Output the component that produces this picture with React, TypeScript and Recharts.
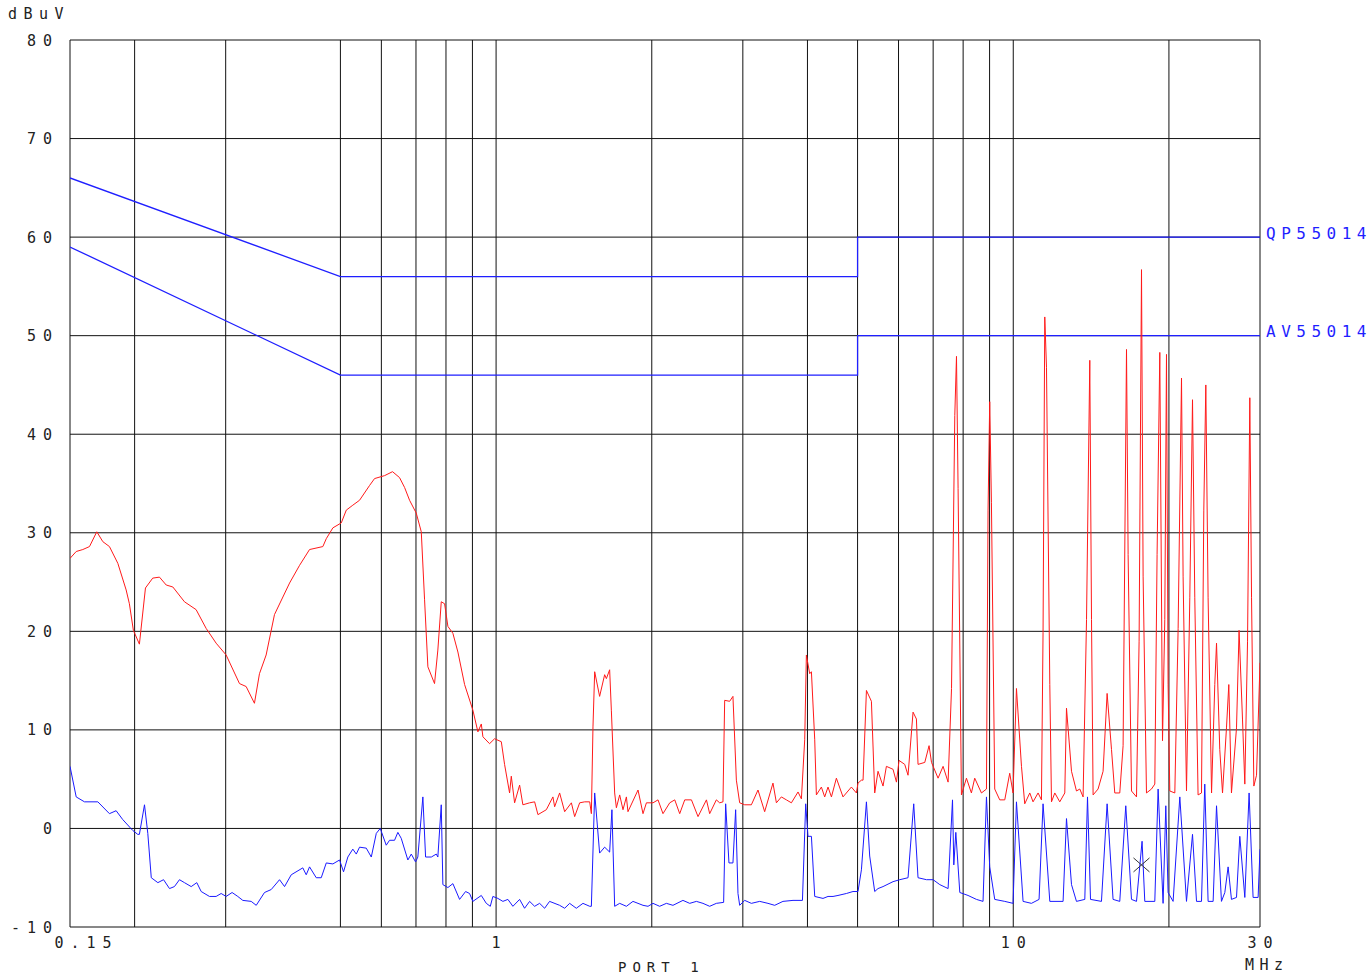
import {
  CartesianGrid,
  ComposedChart,
  Line,
  ReferenceDot,
  ReferenceLine,
  XAxis,
  YAxis,
} from 'recharts'

type Pt = [number, number]

// peak detector sweep, [MHz, dBuV]
const peakTrace: Pt[] = [
  [0.15, 27.4], [0.1542, 28.1], [0.1588, 28.3], [0.1636, 28.6], [0.169, 30.1], [0.1736, 29.1],
  [0.1788, 28.6], [0.1856, 26.9], [0.1926, 24.2], [0.1954, 22.8], [0.1989, 20.1], [0.2043, 18.7],
  [0.2099, 24.4], [0.2168, 25.4], [0.2234, 25.5], [0.2302, 24.7], [0.2371, 24.5], [0.2497, 23.0],
  [0.263, 22.2], [0.275, 20.3], [0.2875, 18.8], [0.3006, 17.6], [0.319, 14.7], [0.3286, 14.4],
  [0.341, 12.7], [0.3487, 15.7], [0.3592, 17.6], [0.3728, 21.7], [0.3987, 24.9], [0.4169, 26.7],
  [0.4358, 28.3], [0.4624, 28.6], [0.4695, 29.4], [0.4835, 30.5], [0.5019, 31.0], [0.5133, 32.3],
  [0.5284, 32.8], [0.5445, 33.3], [0.5693, 34.8], [0.5821, 35.5], [0.6087, 35.8], [0.6306, 36.2],
  [0.6506, 35.6], [0.6653, 34.6], [0.6803, 33.3], [0.7008, 32.0], [0.7167, 30.1], [0.7273, 23.2],
  [0.7381, 16.4], [0.7603, 14.7], [0.7716, 18.1], [0.7834, 23.0], [0.7951, 22.8], [0.8069, 20.5],
  [0.825, 19.8], [0.8436, 17.9], [0.8692, 14.6], [0.9018, 12.0], [0.9222, 9.8], [0.9363, 10.6],
  [0.943, 9.3], [0.9714, 8.6], [0.9933, 9.1], [1.0235, 8.8], [1.0385, 6.5], [1.0619, 3.6],
  [1.07, 5.3], [1.0859, 2.6], [1.1104, 4.4], [1.1267, 2.4], [1.161, 2.6], [1.1872, 2.7],
  [1.2048, 1.4], [1.2506, 1.9], [1.288, 3.2], [1.2978, 2.2], [1.327, 3.6], [1.357, 1.7],
  [1.3982, 2.6], [1.4188, 1.2], [1.4508, 2.6], [1.4836, 2.7], [1.5171, 2.7], [1.5284, 1.5],
  [1.5394, 10.3], [1.5511, 15.9], [1.5856, 13.4], [1.6215, 15.6], [1.6339, 15.2], [1.658, 16.1],
  [1.6706, 12.0], [1.6954, 3.6], [1.7084, 2.1], [1.7337, 3.4], [1.7594, 1.9], [1.7864, 3.2],
  [1.7988, 1.7], [1.8812, 3.9], [1.9234, 1.5], [1.9528, 2.6], [2.0111, 2.6], [2.0565, 2.9],
  [2.1025, 1.5], [2.1664, 2.6], [2.2153, 2.9], [2.2649, 1.5], [2.316, 2.9], [2.3864, 2.9],
  [2.4573, 1.2], [2.5513, 2.9], [2.5882, 1.5], [2.6663, 2.9], [2.7058, 2.6], [2.746, 2.7],
  [2.7669, 13.0], [2.8288, 12.9], [2.8708, 13.4], [2.9148, 4.9], [2.958, 2.6], [3.0249, 2.4],
  [3.1163, 2.4], [3.2094, 3.9], [3.3062, 1.7], [3.4308, 4.6], [3.4834, 2.6], [3.5613, 3.2],
  [3.6417, 2.9], [3.724, 2.6], [3.8355, 3.7], [3.8935, 3.0], [3.9515, 9.0], [3.9811, 17.6],
  [4.0403, 15.7], [4.0711, 15.9], [4.1316, 9.0], [4.1622, 3.4], [4.256, 4.2], [4.3193, 3.2],
  [4.3835, 4.2], [4.4507, 3.2], [4.5499, 5.1], [4.6859, 3.2], [4.8641, 4.2], [4.974, 3.6],
  [5.0095, 4.6], [5.0863, 4.9], [5.1236, 4.9], [5.2012, 14.0], [5.318, 12.9], [5.3964, 3.6],
  [5.4766, 5.8], [5.6004, 4.3], [5.6849, 6.3], [5.8553, 6.0], [5.945, 4.7], [6.0139, 6.9],
  [6.1682, 6.5], [6.2597, 5.4], [6.4012, 11.8], [6.4978, 11.1], [6.5444, 6.5], [6.744, 6.7],
  [6.8742, 8.4], [6.949, 6.7], [7.1552, 5.1], [7.3168, 6.3], [7.482, 4.7], [7.5967, 14.2],
  [7.708, 41.9], [7.7667, 47.9], [7.8223, 34.5], [7.9396, 3.4], [8.119, 5.1], [8.2999, 3.6],
  [8.4234, 5.1], [8.6793, 3.6], [8.8754, 4.0], [8.939, 32.3], [9.0052, 43.3], [9.0738, 33.1],
  [9.2085, 4.0], [9.4164, 2.9], [9.6291, 2.9], [9.8446, 5.6], [9.991, 3.6], [10.144, 14.2],
  [10.373, 6.3], [10.525, 2.5], [10.763, 3.6], [10.922, 2.7], [11.169, 3.6], [11.338, 2.9],
  [11.419, 19.9], [11.507, 51.9], [11.595, 46.8], [11.767, 14.6], [11.856, 2.7], [12.032, 3.6],
  [12.301, 2.7], [12.579, 3.6], [12.675, 12.2], [12.961, 5.8], [13.251, 3.8], [13.448, 4.0],
  [13.648, 3.2], [13.857, 21.2], [14.06, 47.5], [14.168, 21.2], [14.269, 3.4], [14.588, 4.0],
  [14.918, 5.8], [15.188, 13.7], [15.488, 8.0], [15.715, 3.6], [16.069, 3.6], [16.308, 8.4],
  [16.558, 48.6], [16.677, 27.8], [16.929, 3.8], [17.311, 3.2], [17.512, 19.0], [17.701, 56.7],
  [17.828, 25.6], [18.097, 3.6], [18.506, 4.0], [18.781, 4.5], [18.972, 27.8], [19.204, 48.3],
  [19.436, 8.9], [19.634, 21.2], [19.784, 48.1], [19.926, 14.6], [20.078, 3.8], [20.531, 3.6],
  [20.836, 20.3], [21.151, 45.7], [21.303, 25.6], [21.627, 3.8], [21.948, 23.4], [22.213, 43.5],
  [22.44, 23.4], [22.77, 3.4], [23.12, 3.6], [23.36, 32.3], [23.57, 45.0], [23.81, 23.4],
  [24.18, 3.6], [24.53, 14.6], [24.72, 18.8], [25.08, 8.0], [25.39, 3.6], [25.84, 10.2],
  [26.11, 14.6], [26.42, 3.6], [27.02, 10.2], [27.33, 20.1], [27.75, 11.1], [28.04, 4.5],
  [28.38, 19.0], [28.67, 43.7], [28.89, 23.4], [29.19, 4.3], [29.54, 5.4], [30, 16.8],
]

// average detector sweep, [MHz, dBuV]
const avgTrace: Pt[] = [
  [0.15, 6.3], [0.1542, 3.2], [0.16, 2.7], [0.1698, 2.7], [0.1788, 1.5], [0.1842, 1.8],
  [0.1897, 0.9], [0.1983, -0.2], [0.2028, -0.6], [0.2043, -0.6], [0.209, 2.4], [0.2121, -0.5],
  [0.2154, -5.0], [0.2218, -5.5], [0.2275, -5.2], [0.2336, -6.1], [0.2388, -5.9], [0.2442, -5.2],
  [0.2497, -5.5], [0.2573, -5.9], [0.2638, -5.5], [0.269, -6.4], [0.2791, -6.9], [0.2875, -6.9],
  [0.294, -6.6], [0.3006, -6.9], [0.3087, -6.5], [0.3166, -6.9], [0.3238, -7.3], [0.3361, -7.4],
  [0.3437, -7.8], [0.3566, -6.5], [0.3674, -6.2], [0.3813, -5.2], [0.3899, -5.9], [0.4017, -4.7],
  [0.4229, -4.0], [0.4294, -4.7], [0.4358, -3.9], [0.449, -5.0], [0.4591, -5.0], [0.4695, -3.5],
  [0.4835, -3.6], [0.4981, -3.2], [0.507, -4.4], [0.5168, -2.9], [0.5284, -2.1], [0.5366, -2.6],
  [0.5445, -1.9], [0.561, -2.0], [0.5737, -2.9], [0.5866, -0.5], [0.597, 0.0], [0.6132, -1.7],
  [0.6223, -1.2], [0.6363, -1.2], [0.6457, -0.4], [0.6555, -1.0], [0.6751, -3.2], [0.6855, -2.6],
  [0.6987, -3.4], [0.7058, -2.9], [0.7218, 3.2], [0.7306, -2.9], [0.7495, -2.9], [0.7663, -2.6],
  [0.7716, -2.9], [0.7834, 2.4], [0.789, -5.7], [0.8069, -6.0], [0.825, -5.6], [0.85, -7.2],
  [0.873, -6.4], [0.8886, -6.6], [0.9018, -7.4], [0.9363, -6.8], [0.9573, -7.6], [0.9745, -7.9],
  [0.9858, -6.9], [1.008, -7.1], [1.0308, -7.4], [1.0539, -7.2], [1.0777, -7.9], [1.1104, -7.2],
  [1.1352, -8.1], [1.161, -7.4], [1.1872, -7.9], [1.2138, -7.6], [1.2412, -8.1], [1.2689, -7.4],
  [1.327, -7.8], [1.357, -8.1], [1.3875, -7.6], [1.4292, -8.1], [1.4722, -7.6], [1.5171, -7.9],
  [1.5284, -7.9], [1.5511, 3.6], [1.5856, -2.5], [1.6215, -1.9], [1.658, -2.4], [1.6749, 1.9],
  [1.6954, -7.9], [1.7337, -7.6], [1.7864, -7.9], [1.8393, -7.4], [1.9234, -7.8], [1.9668, -7.9],
  [2.0111, -7.6], [2.0713, -7.9], [2.1347, -7.6], [2.1978, -7.8], [2.2978, -7.3], [2.3681, -7.6],
  [2.4396, -7.4], [2.5119, -7.6], [2.5882, -7.9], [2.6663, -7.6], [2.7542, -7.5], [2.779, 2.5],
  [2.8202, -3.5], [2.8708, -3.5], [2.9055, 1.9], [2.9357, -6.6], [2.958, -7.8], [3.0249, -7.3],
  [3.1163, -7.6], [3.2338, -7.4], [3.3551, -7.6], [3.457, -7.8], [3.5868, -7.4], [3.7507, -7.3],
  [3.9117, -7.3], [3.9689, 2.5], [4.0097, -0.8], [4.0711, -0.8], [4.1316, -6.9], [4.2867, -7.1],
  [4.3835, -6.9], [4.4823, -6.9], [4.5824, -6.8], [4.7574, -6.6], [4.8987, -6.4], [5.0095, -6.4],
  [5.0863, -4.2], [5.2012, 2.7], [5.2774, -2.8], [5.3964, -6.4], [5.4766, -6.1], [5.6004, -5.9],
  [5.8553, -5.4], [6.0331, -5.2], [6.2597, -5.0], [6.4205, 2.5], [6.5444, -5.0], [6.7956, -5.2],
  [6.999, -5.2], [7.2103, -5.7], [7.482, -6.1], [7.6303, 2.9], [7.6744, -3.7], [7.7436, -0.4],
  [7.8823, -6.5], [8.1772, -6.8], [8.4878, -7.2], [8.7412, -7.4], [8.8754, 3.2], [9.0052, -3.9],
  [9.2085, -7.2], [9.6291, -7.4], [9.991, -7.6], [10.144, 2.7], [10.447, -7.4], [10.844, -7.6],
  [11.218, -7.2], [11.419, 2.5], [11.767, -7.4], [12.484, -7.4], [12.675, 1.0], [12.961, -5.7],
  [13.251, -7.4], [13.752, -7.2], [13.918, 3.2], [14.105, -7.2], [14.81, -7.4], [15.188, 2.5],
  [15.596, -7.2], [16.069, -7.4], [16.504, 2.3], [16.929, -7.2], [17.311, -7.4], [17.746, -1.3],
  [17.962, -7.4], [18.781, -7.4], [19.06, 4.0], [19.486, -7.6], [19.724, 2.3], [19.926, -6.5],
  [20.375, -7.4], [20.994, 3.2], [21.627, -7.4], [22.213, -0.6], [22.614, -7.4], [23.12, -7.4],
  [23.46, 4.5], [23.81, -7.4], [24.35, -7.4], [24.72, 2.3], [25.27, -7.4], [25.65, -6.5],
  [26.03, -3.9], [26.42, -7.2], [27.02, -7.0], [27.42, -0.8], [28.04, -7.0], [28.58, 3.6],
  [29.09, -7.0], [29.75, -7.0], [30, -2.1],
]

// EN 55014 conducted limits
const qpLimit: Pt[] = [[0.15, 66], [0.5, 56], [5, 56], [5, 60], [30, 60]]
const avLimit: Pt[] = [[0.15, 59], [0.5, 46], [5, 46], [5, 50], [30, 50]]

const freqTicks = [0.15, 1, 10, 30]
const freqGrid = [0.15, 0.2, 0.3, 0.5, 0.6, 0.7, 0.8, 0.9, 1, 2, 3, 4, 5, 6, 7, 8, 9, 10, 20, 30]
const levelTicks = [-10, 0, 10, 20, 30, 40, 50, 60, 70, 80]

const marker = { f: 17.7, level: -3.7 }

const toRows = (pts: Pt[]) => pts.map(([f, level]) => ({ f, level }))

const FONT = "'DejaVu Sans Mono', monospace"
const INK = '#222'
const LIMIT_BLUE = '#1f1fff'

function FreqTick(props: any) {
  const { x, y, payload } = props
  const shift = payload.value === 0.15 ? 13 : 0
  return (
    <text
      x={x + shift + 3.5}
      y={y + 13}
      textAnchor='middle'
      fontFamily={FONT}
      fontSize={15}
      letterSpacing={7}
      fill={INK}
    >
      {payload.value}
    </text>
  )
}

function LevelTick(props: any) {
  const { y, payload } = props
  return (
    <text
      x={59}
      y={y + 5.5}
      textAnchor='end'
      fontFamily={FONT}
      fontSize={15}
      letterSpacing={7}
      fill={INK}
    >
      {payload.value < 0 ? `-${Math.abs(payload.value)}` : payload.value}
    </text>
  )
}

function limitLabel(name: string, lastIndex: number) {
  return (props: any) => {
    if (props.index !== lastIndex) return null
    return (
      <text
        key={name}
        x={props.x + 6}
        y={props.y + 1.5}
        fontFamily={FONT}
        fontSize={16}
        letterSpacing={5.5}
        fill={LIMIT_BLUE}
      >
        {name}
      </text>
    )
  }
}

function CrossMark(props: any) {
  const { cx, cy } = props
  if (cx == null || cy == null) return <g />
  return (
    <g stroke='#333' strokeWidth={1}>
      <line x1={cx - 8} y1={cy - 7} x2={cx + 8} y2={cy + 7} />
      <line x1={cx - 8} y1={cy + 7} x2={cx + 8} y2={cy - 7} />
    </g>
  )
}

export default function App() {
  return (
    <div style={{ position: 'absolute', left: 0, top: 0, width: 1372, height: 974, background: '#fff' }}>
      <ComposedChart width={1372} height={974} margin={{ top: 40, right: 112, bottom: 17, left: 0 }}>
        <CartesianGrid vertical={false} stroke='#111' strokeWidth={1} />
        <XAxis
          dataKey='f'
          type='number'
          scale='log'
          domain={[0.15, 30]}
          allowDataOverflow
          ticks={freqTicks}
          tick={<FreqTick />}
          axisLine={false}
          tickLine={false}
          height={30}
        />
        <YAxis
          dataKey='level'
          type='number'
          domain={[-10, 80]}
          allowDataOverflow
          ticks={levelTicks}
          tick={<LevelTick />}
          axisLine={false}
          tickLine={false}
          width={70}
        />
        {freqGrid.map((f) => (
          <ReferenceLine key={f} x={f} stroke='#111' strokeWidth={1} />
        ))}
        <Line
          data={toRows(qpLimit)}
          dataKey='level'
          type='linear'
          stroke={LIMIT_BLUE}
          strokeWidth={1.3}
          dot={false}
          activeDot={false}
          isAnimationActive={false}
          label={limitLabel('QP55014', qpLimit.length - 1)}
        />
        <Line
          data={toRows(avLimit)}
          dataKey='level'
          type='linear'
          stroke={LIMIT_BLUE}
          strokeWidth={1.3}
          dot={false}
          activeDot={false}
          isAnimationActive={false}
          label={limitLabel('AV55014', avLimit.length - 1)}
        />
        <Line
          data={toRows(peakTrace)}
          dataKey='level'
          type='linear'
          stroke='#ff1a1a'
          strokeWidth={1}
          dot={false}
          activeDot={false}
          isAnimationActive={false}
        />
        <Line
          data={toRows(avgTrace)}
          dataKey='level'
          type='linear'
          stroke='#1a1aff'
          strokeWidth={1}
          dot={false}
          activeDot={false}
          isAnimationActive={false}
        />
        <ReferenceDot x={marker.f} y={marker.level} r={8} shape={CrossMark} />
      </ComposedChart>
      <svg
        width={1372}
        height={974}
        style={{ position: 'absolute', left: 0, top: 0, pointerEvents: 'none' }}
      >
        <text x={8} y={19} fontFamily={FONT} fontSize={15} letterSpacing={6.5} fill={INK}>
          dBuV
        </text>
        <text x={1245} y={970} fontFamily={FONT} fontSize={15} letterSpacing={5.5} fill={INK}>
          MHz
        </text>
        <text x={618} y={972} fontFamily={FONT} fontSize={14} letterSpacing={6} fill={INK}>
          PORT 1
        </text>
      </svg>
    </div>
  )
}
